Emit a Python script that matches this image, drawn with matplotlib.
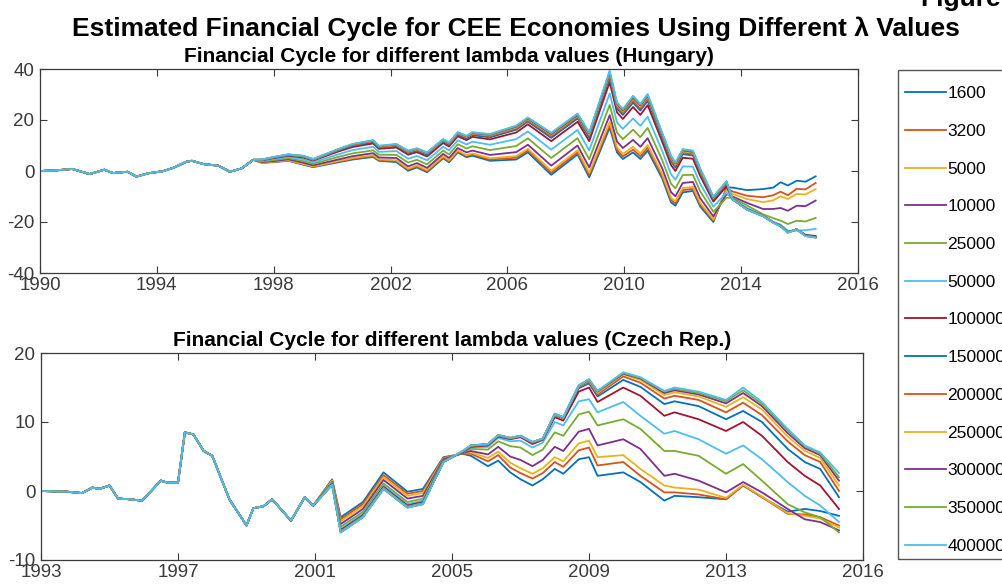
import matplotlib.pyplot as plt
from matplotlib.patches import Rectangle

# HP filter smoothing parameters (legend) and MATLAB default line colours
lambdas = ['1600', '3200', '5000', '10000', '25000', '50000', '100000',
           '150000', '200000', '250000', '300000', '350000', '400000']
colors = ['#0072BD', '#D95319', '#EDB120', '#7E2F8E', '#77AC30', '#4DBEEE', '#A2142F',
          '#0072BD', '#D95319', '#EDB120', '#7E2F8E', '#77AC30', '#4DBEEE']

# ---------------- Hungary ----------------
hu_years = [1990.0, 1990.5, 1991.1, 1991.7, 1992.2, 1992.5, 1993.0, 1993.3, 1993.7,
            1994.2, 1994.6, 1995.0, 1995.2, 1995.6, 1996.1, 1996.5, 1996.9, 1997.3,
            1997.6, 1998.0, 1998.5, 1999.0, 1999.35, 2000.2, 2000.7, 2001.4, 2001.6,
            2002.2, 2002.6, 2002.9, 2003.25, 2003.8, 2004.0, 2004.3, 2004.6, 2004.8,
            2005.4, 2006.3, 2006.7, 2007.5, 2008.4, 2008.8, 2009.5, 2009.75, 2009.95,
            2010.3, 2010.55, 2010.8, 2011.3, 2011.6, 2011.75, 2012.0, 2012.35, 2012.6,
            2013.05, 2013.5, 2013.7, 2014.2, 2014.75, 2015.1, 2015.35, 2015.6, 2015.9,
            2016.2, 2016.55]
# all filters agree before 1997
hu_early = [0.0, 0.2, 0.8, -1.2, 0.5, -0.8, -0.3, -2.2, -0.9, -0.1, 1.4, 3.6, 4.0, 2.7,
            2.1, -0.3, 1.0, 4.4]
hu_1600 = hu_early + [3.2, 3.5, 4.0, 2.5, 1.5, 3.4, 4.5, 5.5, 4.0, 3.5, 0.1, 1.4, -0.5, 5.0, 3.4, 7.3, 5.4, 6.0, 4.0, 4.5, 7.3, -1.5, 6.5, -2.5, 17.0, 7.3, 4.7, 7.3, 4.7, 8.0, -3.0, -12.3, -13.6, -8.4, -7.8, -14.0, -20.0, -6.5, -6.5, -7.5, -7.1, -6.5, -4.4, -5.7, -3.8, -4.2, -2.1]
hu_3200 = hu_early + [3.3, 3.6, 4.1, 2.7, 1.7, 3.7, 4.8, 5.8, 4.3, 3.9, 0.5, 1.8, -0.1, 5.4, 3.8, 7.7, 5.8, 6.5, 4.5, 5.2, 8.0, -0.7, 7.3, -1.6, 18.1, 8.3, 5.7, 8.4, 5.8, 9.1, -2.1, -11.4, -12.7, -7.5, -7.0, -13.2, -19.5, -7.0, -8.0, -9.7, -10.3, -9.5, -8.1, -9.5, -7.0, -7.2, -4.7]
hu_5000 = hu_early + [3.3, 3.7, 4.2, 2.8, 1.8, 3.9, 5.1, 6.2, 4.6, 4.2, 0.9, 2.2, 0.3, 5.8, 4.2, 8.1, 6.2, 6.9, 5.0, 5.8, 8.7, 0.1, 8.1, -0.7, 19.2, 9.3, 6.7, 9.5, 6.9, 10.2, -1.2, -10.5, -11.9, -6.7, -6.2, -12.5, -19.0, -7.5, -9.0, -11.0, -12.2, -11.5, -9.9, -11.0, -9.0, -9.2, -7.1]
hu_10000 = hu_early + [3.5, 3.9, 4.6, 3.3, 2.2, 4.5, 5.8, 7.0, 5.3, 5.1, 1.8, 3.1, 1.2, 6.7, 5.1, 9.0, 7.3, 8.0, 6.3, 7.4, 10.3, 2.1, 10.0, 1.4, 21.9, 11.6, 9.0, 12.2, 9.5, 12.9, 1.0, -8.3, -9.9, -4.7, -4.3, -10.7, -17.8, -9.0, -10.0, -12.5, -14.9, -14.9, -14.5, -15.6, -13.6, -13.8, -11.6]
hu_25000 = hu_early + [3.7, 4.3, 5.0, 3.9, 2.8, 5.5, 6.9, 8.1, 6.4, 6.3, 3.3, 4.4, 2.6, 8.0, 6.5, 10.5, 8.8, 9.7, 8.2, 9.8, 12.8, 5.1, 12.9, 4.6, 25.9, 15.1, 12.5, 16.2, 13.3, 16.9, 4.2, -5.0, -6.8, -1.6, -1.5, -8.0, -16.0, -10.5, -10.5, -13.5, -17.0, -18.5, -19.5, -20.8, -19.5, -19.8, -18.4]
hu_50000 = hu_early + [4.0, 4.7, 5.5, 4.6, 3.4, 6.5, 8.2, 9.5, 7.5, 7.8, 4.8, 5.9, 4.2, 9.5, 8.1, 12.0, 10.4, 11.5, 10.3, 12.5, 15.5, 8.4, 16.1, 8.1, 30.4, 19.1, 16.5, 20.6, 17.7, 21.3, 7.8, -1.3, -3.4, 1.8, 1.7, -5.0, -14.0, -8.5, -11.0, -14.5, -17.5, -20.0, -21.0, -23.5, -23.4, -23.2, -22.7]
hu_100000 = hu_early + [4.2, 5.1, 6.0, 5.3, 4.1, 7.6, 9.4, 10.8, 8.7, 9.2, 6.4, 7.4, 5.7, 11.0, 9.6, 13.6, 12.1, 13.4, 12.4, 15.1, 18.3, 11.7, 19.3, 11.7, 34.8, 23.0, 20.4, 25.1, 22.0, 25.8, 11.4, 2.3, 0.0, 5.2, 4.8, -2.0, -12.0, -6.0, -11.0, -15.0, -17.5, -20.1, -21.5, -24.0, -22.9, -25.0, -25.5]
hu_150000 = hu_early + [4.3, 5.3, 6.2, 5.6, 4.3, 8.0, 9.9, 11.3, 9.2, 9.8, 7.1, 8.0, 6.4, 11.6, 10.3, 14.2, 12.8, 14.1, 13.2, 16.2, 19.4, 13.0, 20.6, 13.1, 36.6, 24.5, 22.0, 26.8, 23.7, 27.5, 12.8, 3.8, 1.4, 6.6, 6.1, -0.8, -11.2, -5.0, -11.0, -15.0, -17.6, -20.1, -21.5, -24.0, -22.8, -25.2, -25.8]
hu_200000 = hu_early + [4.4, 5.3, 6.3, 5.7, 4.4, 8.2, 10.1, 11.6, 9.4, 10.0, 7.4, 8.3, 6.7, 11.9, 10.6, 14.6, 13.1, 14.5, 13.7, 16.7, 19.9, 13.7, 21.2, 13.8, 37.5, 25.3, 22.7, 27.7, 24.6, 28.4, 13.6, 4.5, 2.0, 7.2, 6.7, -0.2, -10.8, -4.6, -11.0, -15.1, -17.6, -20.2, -21.6, -24.1, -22.8, -25.4, -26.0]
hu_250000 = hu_early + [4.4, 5.4, 6.4, 5.8, 4.5, 8.3, 10.3, 11.8, 9.6, 10.2, 7.6, 8.5, 6.9, 12.1, 10.8, 14.8, 13.4, 14.7, 14.0, 17.1, 20.3, 14.2, 21.7, 14.3, 38.2, 25.9, 23.3, 28.4, 25.2, 29.1, 14.1, 5.1, 2.5, 7.7, 7.2, 0.2, -10.5, -4.4, -11.0, -15.1, -17.6, -20.2, -21.6, -24.1, -22.8, -25.4, -26.0]
hu_300000 = hu_early + [4.5, 5.4, 6.4, 5.9, 4.6, 8.4, 10.4, 11.9, 9.7, 10.4, 7.8, 8.7, 7.1, 12.3, 11.0, 15.0, 13.6, 14.9, 14.2, 17.4, 20.6, 14.5, 22.0, 14.7, 38.6, 26.3, 23.7, 28.8, 25.7, 29.5, 14.5, 5.5, 2.9, 8.1, 7.5, 0.6, -10.3, -4.2, -11.1, -15.1, -17.7, -20.2, -21.6, -24.1, -22.9, -25.4, -26.0]
hu_350000 = hu_early + [4.5, 5.5, 6.5, 5.9, 4.7, 8.5, 10.5, 12.0, 9.8, 10.5, 7.9, 8.8, 7.2, 12.4, 11.1, 15.1, 13.7, 15.1, 14.3, 17.6, 20.8, 14.8, 22.3, 14.9, 39.0, 26.6, 24.0, 29.2, 26.0, 29.9, 14.7, 5.7, 3.1, 8.3, 7.8, 0.8, -10.2, -4.1, -11.1, -15.2, -17.7, -20.3, -21.7, -24.2, -22.9, -25.5, -26.1]
hu_400000 = hu_early + [4.5, 5.5, 6.5, 6.0, 4.7, 8.6, 10.6, 12.1, 9.9, 10.6, 8.0, 8.9, 7.3, 12.5, 11.2, 15.2, 13.8, 15.2, 14.5, 17.8, 21.0, 15.0, 22.5, 15.2, 39.3, 26.9, 24.3, 29.5, 26.3, 30.2, 15.0, 6.0, 3.4, 8.6, 8.0, 1.0, -10.0, -4.0, -11.1, -15.2, -17.7, -20.3, -21.7, -24.2, -22.9, -25.5, -26.1]

hu_tick_years = [1990, 1994, 1998, 2002, 2006, 2010, 2014, 2018]
hu_tick_labels = ['1990', '1994', '1998', '2002', '2006', '2010', '2014', '2016']

# ---------------- Czech Republic ----------------
cz_years = [1993.05, 1993.75, 1994.2, 1994.5, 1994.7, 1995.0, 1995.25, 1995.6, 1995.95,
            1996.5, 1996.7, 1997.0, 1997.2, 1997.45, 1997.75, 1998.0, 1998.5, 1999.0,
            1999.2, 1999.5, 1999.75, 2000.3, 2000.7, 2000.95,
            2001.5, 2001.75, 2002.4, 2003.0, 2003.7, 2004.15, 2004.75,
            2005.3, 2005.55, 2006.05, 2006.35, 2006.7, 2007.0, 2007.35, 2007.65, 2008.0,
            2008.25, 2008.7, 2009.0, 2009.25, 2010.0, 2010.5, 2011.2, 2011.5, 2012.2,
            2013.0, 2013.5, 2014.05, 2014.8, 2015.3, 2015.75, 2016.3]
cz_early = [0.0, -0.1, -0.3, 0.5, 0.3, 0.8, -1.1, -1.2, -1.4, 1.5, 1.2, 1.2, 8.5, 8.2,
            5.8, 5.1, -1.2, -5.0, -2.5, -2.2, -1.2, -4.3, -0.9, -2.1]
cz_1600 = cz_early + [1.7, -3.8, -1.6, 2.7, -0.1, 0.3, 4.9, 5.4, 5.1, 3.6, 4.4, 2.7, 1.7, 0.8, 1.7, 3.2, 2.5, 4.6, 4.9, 2.2, 2.7, 1.3, -1.4, -0.7, -0.9, -1.2, 0.8, -0.9, -3.0, -2.6, -2.9, -3.6]
cz_3200 = cz_early + [1.6, -4.1, -1.9, 2.3, -0.4, 0.0, 4.8, 5.4, 5.4, 4.3, 5.2, 3.4, 2.6, 1.8, 2.6, 4.2, 3.5, 5.9, 6.3, 3.7, 4.2, 2.2, -0.2, -0.2, -0.5, -1.2, 0.8, -0.9, -3.3, -3.4, -3.8, -5.0]
cz_5000 = cz_early + [1.5, -4.4, -2.2, 2.0, -0.7, -0.3, 4.7, 5.5, 5.6, 4.8, 5.7, 4.1, 3.3, 2.5, 3.3, 4.9, 4.3, 6.9, 7.3, 4.9, 5.2, 3.2, 0.8, 0.5, 0.2, -1.0, 0.9, -0.8, -3.2, -3.6, -4.0, -5.3]
cz_10000 = cz_early + [1.3, -4.8, -2.6, 1.6, -1.1, -0.7, 4.6, 5.5, 5.8, 5.3, 6.4, 5.0, 4.5, 3.6, 4.5, 6.4, 5.8, 8.6, 9.0, 6.6, 7.5, 6.1, 2.2, 2.5, 1.5, -0.2, 1.3, -0.2, -2.6, -4.1, -4.5, -5.7]
cz_25000 = cz_early + [1.2, -5.2, -3.0, 1.1, -1.6, -1.1, 4.4, 5.6, 6.1, 6.0, 7.2, 6.5, 6.3, 5.2, 6.0, 8.5, 8.0, 11.1, 11.5, 9.5, 10.4, 9.0, 5.8, 5.8, 5.1, 2.5, 3.9, 1.5, -1.9, -3.1, -3.8, -6.0]
cz_50000 = cz_early + [1.1, -5.5, -3.3, 0.8, -1.9, -1.4, 4.3, 5.6, 6.3, 6.4, 7.7, 7.2, 7.3, 6.3, 7.0, 10.0, 9.5, 13.0, 13.3, 11.4, 12.9, 10.9, 8.3, 8.7, 7.5, 5.4, 6.6, 4.6, 1.3, -0.7, -2.1, -4.5]
cz_100000 = cz_early + [1.0, -5.7, -3.5, 0.6, -2.1, -1.6, 4.3, 5.6, 6.4, 6.6, 7.9, 7.5, 7.8, 6.8, 7.4, 10.7, 10.2, 14.4, 15.0, 12.9, 15.0, 13.8, 10.9, 11.4, 10.4, 8.7, 10.0, 8.0, 4.2, 2.2, 0.8, -2.6]
cz_150000 = cz_early + [1.0, -5.8, -3.6, 0.5, -2.2, -1.7, 4.3, 5.7, 6.5, 6.7, 8.0, 7.6, 7.9, 7.0, 7.5, 11.0, 10.5, 14.9, 15.6, 13.7, 16.1, 15.1, 12.6, 13.0, 12.3, 10.4, 11.6, 10.0, 6.1, 4.2, 3.2, -0.9]
cz_200000 = cz_early + [0.9, -5.9, -3.7, 0.4, -2.3, -1.8, 4.2, 5.7, 6.5, 6.7, 8.0, 7.6, 7.9, 7.0, 7.5, 11.1, 10.6, 15.1, 15.8, 14.0, 16.6, 15.7, 13.4, 13.8, 13.2, 11.4, 12.8, 11.0, 7.2, 5.2, 4.2, 0.0]
cz_250000 = cz_early + [0.9, -5.9, -3.7, 0.4, -2.3, -1.8, 4.2, 5.7, 6.6, 6.8, 8.1, 7.7, 8.0, 7.1, 7.6, 11.1, 10.6, 15.2, 16.0, 14.2, 16.9, 16.1, 13.9, 14.3, 13.7, 12.2, 13.6, 11.8, 7.9, 5.8, 4.8, 0.8]
cz_300000 = cz_early + [0.9, -6.0, -3.8, 0.3, -2.4, -1.9, 4.2, 5.7, 6.6, 6.8, 8.1, 7.7, 8.0, 7.1, 7.6, 11.2, 10.7, 15.3, 16.1, 14.4, 17.0, 16.3, 14.2, 14.6, 14.0, 12.7, 14.2, 12.3, 8.4, 6.2, 5.2, 1.5]
cz_350000 = cz_early + [0.9, -6.0, -3.8, 0.3, -2.4, -1.9, 4.2, 5.7, 6.6, 6.8, 8.1, 7.7, 8.0, 7.1, 7.6, 11.2, 10.7, 15.3, 16.2, 14.5, 17.1, 16.4, 14.4, 14.8, 14.2, 13.0, 14.6, 12.6, 8.8, 6.5, 5.4, 2.0]
cz_400000 = cz_early + [0.9, -6.0, -3.8, 0.3, -2.4, -1.9, 4.2, 5.8, 6.6, 6.8, 8.1, 7.7, 8.0, 7.1, 7.6, 11.2, 10.7, 15.3, 16.2, 14.5, 17.2, 16.5, 14.5, 15.0, 14.4, 13.2, 15.0, 12.9, 9.0, 6.6, 5.6, 2.6]

cz_tick_years = [1993, 1997, 2001, 2005, 2009, 2013, 2017]
cz_tick_labels = ['1993', '1997', '2001', '2005', '2009', '2013', '2016']

hu_series = [hu_1600, hu_3200, hu_5000, hu_10000, hu_25000, hu_50000, hu_100000,
             hu_150000, hu_200000, hu_250000, hu_300000, hu_350000, hu_400000]
cz_series = [cz_1600, cz_3200, cz_5000, cz_10000, cz_25000, cz_50000, cz_100000,
             cz_150000, cz_200000, cz_250000, cz_300000, cz_350000, cz_400000]

plt.rcParams['font.family'] = ['Liberation Sans', 'DejaVu Sans']
plt.rcParams['axes.unicode_minus'] = False
axis_grey = '#3a3a3a'

fig = plt.figure(figsize=(10.02, 5.87), dpi=100)
ax1 = fig.add_axes([40 / 1002, 1 - 273 / 587, 818 / 1002, 204 / 587])
ax2 = fig.add_axes([41 / 1002, 1 - 560 / 587, 822 / 1002, 207 / 587])


def style_axis(ax, title, ticks, labels, xlim, ylim, yticks):
    ax.set_xlim(*xlim)
    ax.set_ylim(*ylim)
    ax.set_xticks(ticks)
    ax.set_xticklabels(labels)
    ax.set_yticks(yticks)
    ax.tick_params(direction='in', top=True, right=True, length=5, width=0.8,
                   labelsize=13.5, colors=axis_grey)
    ax.tick_params(axis='x', pad=3)
    ax.tick_params(axis='y', pad=4)
    for sp in ax.spines.values():
        sp.set_color(axis_grey)
        sp.set_linewidth(0.9)
    ax.set_title(title, fontsize=15, fontweight='bold', pad=5)


for lab, col, vals in zip(lambdas, colors, hu_series):
    ax1.plot(hu_years, vals, color=col, lw=1.3, label=lab)
for lab, col, vals in zip(lambdas, colors, cz_series):
    ax2.plot(cz_years, vals, color=col, lw=1.3, label=lab)

style_axis(ax1, 'Financial Cycle for different lambda values (Hungary)',
           hu_tick_years, hu_tick_labels, (1990, 2018), (-40, 40), [-40, -20, 0, 20, 40])
style_axis(ax2, 'Financial Cycle for different lambda values (Czech Rep.)',
           cz_tick_years, cz_tick_labels, (1993, 2017), (-10, 20), [-10, 0, 10, 20])

# legend entries without their own frame; the box is drawn separately (it runs off the right edge)
handles, labels = ax1.get_legend_handles_labels()
leg = fig.legend(handles, labels, loc='upper left',
                 bbox_to_anchor=(905 / 1002, 1 - 86 / 587), bbox_transform=fig.transFigure,
                 borderaxespad=0, borderpad=0, fontsize=12.5, labelspacing=1.30,
                 handlelength=2.35, handletextpad=0.1, frameon=False)
fig.patches.append(Rectangle((898 / 1002, 1 - 559 / 587), 120 / 1002, 489 / 587,
                             transform=fig.transFigure, fill=False,
                             edgecolor='#555555', linewidth=1.0))

fig.text(516 / 1002, 1 - 29 / 587,
         'Estimated Financial Cycle for CEE Economies Using Different \u03bb Values',
         ha='center', va='center', fontsize=19, fontweight='bold')
fig.text(920 / 1002, 1 - 6 / 587, 'Figure', ha='left', va='baseline',
         fontsize=19, fontweight='bold')

fig.savefig('out.png', dpi=100)
